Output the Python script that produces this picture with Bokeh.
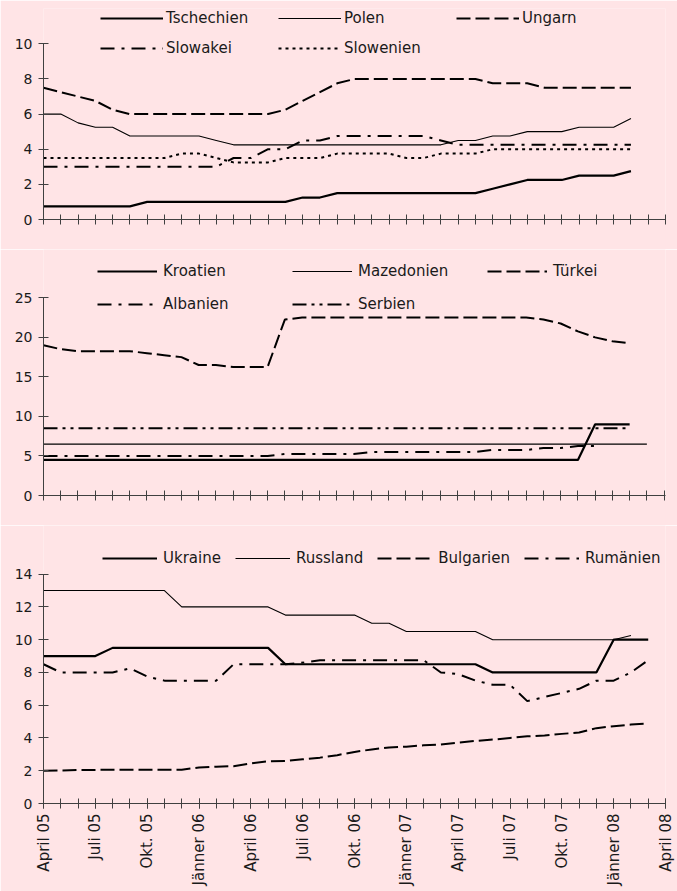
import math
from bokeh.plotting import figure
from bokeh.models import Range1d, FixedTicker, Legend, LegendItem
from bokeh.layouts import column
from bokeh.embed import file_html
from bokeh.resources import INLINE

BG = "#FFE4E6"
FONT = "DejaVu Sans"
AXC = "#404040"
TXT = "#1a1a1a"

# month index 0 = April 05 ... 36 = April 08
tick_labels = ["April 05", "Juli 05", "Okt. 05", "Jänner 06", "April 06", "Juli 06",
               "Okt. 06", "Jänner 07", "April 07", "Juli 07", "Okt. 07", "Jänner 08", "April 08"]
n_months = 37

# ---- panel 1 ----
tschechien = [0.75, 0.75, 0.75, 0.75, 0.75, 0.75, 1.0, 1.0, 1.0, 1.0, 1.0, 1.0, 1.0, 1.0, 1.0,
              1.25, 1.25, 1.5, 1.5, 1.5, 1.5, 1.5, 1.5, 1.5, 1.5, 1.5, 1.75, 2.0, 2.25, 2.25, 2.25,
              2.5, 2.5, 2.5, 2.75]
polen = [6.0, 6.0, 5.5, 5.25, 5.25, 4.75, 4.75, 4.75, 4.75, 4.75, 4.5, 4.25, 4.25, 4.25, 4.25,
         4.25, 4.25, 4.25, 4.25, 4.25, 4.25, 4.25, 4.25, 4.25, 4.5, 4.5, 4.75, 4.75, 5.0, 5.0, 5.0,
         5.25, 5.25, 5.25, 5.75]
ungarn = [7.5, 7.25, 7.0, 6.75, 6.25, 6.0, 6.0, 6.0, 6.0, 6.0, 6.0, 6.0, 6.0, 6.0, 6.25, 6.75,
          7.25, 7.75, 8.0, 8.0, 8.0, 8.0, 8.0, 8.0, 8.0, 8.0, 7.75, 7.75, 7.75, 7.5, 7.5, 7.5,
          7.5, 7.5, 7.5]
slowakei = [3.0, 3.0, 3.0, 3.0, 3.0, 3.0, 3.0, 3.0, 3.0, 3.0, 3.0, 3.5, 3.5, 4.0, 4.0, 4.5, 4.5,
            4.75, 4.75, 4.75, 4.75, 4.75, 4.75, 4.5, 4.25, 4.25, 4.25, 4.25, 4.25, 4.25, 4.25,
            4.25, 4.25, 4.25, 4.25]
slowenien = [3.5, 3.5, 3.5, 3.5, 3.5, 3.5, 3.5, 3.5, 3.75, 3.75, 3.5, 3.25, 3.25, 3.25, 3.5,
             3.5, 3.5, 3.75, 3.75, 3.75, 3.75, 3.5, 3.5, 3.75, 3.75, 3.75, 4.0, 4.0, 4.0, 4.0,
             4.0, 4.0, 4.0, 4.0, 4.0]

# ---- panel 2 ----
kroatien = [4.5, 4.5, 4.5, 4.5, 4.5, 4.5, 4.5, 4.5, 4.5, 4.5, 4.5, 4.5, 4.5, 4.5, 4.5, 4.5,
            4.5, 4.5, 4.5, 4.5, 4.5, 4.5, 4.5, 4.5, 4.5, 4.5, 4.5, 4.5, 4.5, 4.5, 4.5, 4.5,
            9.0, 9.0, 9.0]
mazedonien = [6.5, 6.5, 6.5, 6.5, 6.5, 6.5, 6.5, 6.5, 6.5, 6.5, 6.5, 6.5, 6.5, 6.5, 6.5, 6.5,
              6.5, 6.5, 6.5, 6.5, 6.5, 6.5, 6.5, 6.5, 6.5, 6.5, 6.5, 6.5, 6.5, 6.5, 6.5, 6.5,
              6.5, 6.5, 6.5, 6.5]
tuerkei = [19.0, 18.5, 18.25, 18.25, 18.25, 18.25, 18.0, 17.75, 17.5, 16.5, 16.5, 16.25, 16.25,
           16.25, 22.25, 22.5, 22.5, 22.5, 22.5, 22.5, 22.5, 22.5, 22.5, 22.5, 22.5, 22.5, 22.5,
           22.5, 22.5, 22.25, 21.75, 20.75, 20.0, 19.5, 19.25]
albanien = [5.0, 5.0, 5.0, 5.0, 5.0, 5.0, 5.0, 5.0, 5.0, 5.0, 5.0, 5.0, 5.0, 5.0, 5.25, 5.25,
            5.25, 5.25, 5.25, 5.5, 5.5, 5.5, 5.5, 5.5, 5.5, 5.5, 5.75, 5.75, 5.75, 6.0, 6.0,
            6.25, 6.25]
serbien = [8.5, 8.5, 8.5, 8.5, 8.5, 8.5, 8.5, 8.5, 8.5, 8.5, 8.5, 8.5, 8.5, 8.5, 8.5, 8.5, 8.5,
           8.5, 8.5, 8.5, 8.5, 8.5, 8.5, 8.5, 8.5, 8.5, 8.5, 8.5, 8.5, 8.5, 8.5, 8.5, 8.5, 8.5,
           8.5]

# ---- panel 3 ----
ukraine = [9.0, 9.0, 9.0, 9.0, 9.5, 9.5, 9.5, 9.5, 9.5, 9.5, 9.5, 9.5, 9.5, 9.5, 8.5, 8.5, 8.5,
           8.5, 8.5, 8.5, 8.5, 8.5, 8.5, 8.5, 8.5, 8.5, 8.0, 8.0, 8.0, 8.0, 8.0, 8.0, 8.0, 10.0,
           10.0, 10.0]
russland = [13.0, 13.0, 13.0, 13.0, 13.0, 13.0, 13.0, 13.0, 12.0, 12.0, 12.0, 12.0, 12.0, 12.0,
            11.5, 11.5, 11.5, 11.5, 11.5, 11.0, 11.0, 10.5, 10.5, 10.5, 10.5, 10.5, 10.0, 10.0,
            10.0, 10.0, 10.0, 10.0, 10.0, 10.0, 10.25]
bulgarien = [2.0, 2.02, 2.04, 2.05, 2.06, 2.06, 2.06, 2.06, 2.06, 2.2, 2.25, 2.28, 2.45, 2.58,
             2.6, 2.7, 2.8, 2.95, 3.15, 3.3, 3.42, 3.47, 3.55, 3.6, 3.72, 3.82, 3.9, 4.0, 4.1,
             4.15, 4.25, 4.33, 4.6, 4.72, 4.82, 4.88]
rumaenien = [8.5, 8.0, 8.0, 8.0, 8.0, 8.25, 7.75, 7.5, 7.5, 7.5, 7.5, 8.5, 8.5, 8.5, 8.5, 8.6,
             8.75, 8.75, 8.75, 8.75, 8.75, 8.75, 8.75, 8.0, 7.9, 7.5, 7.25, 7.25, 6.25, 6.5,
             6.75, 7.0, 7.5, 7.5, 8.0, 8.75]

THICK = dict(line_width=2.2, line_dash="solid")
THIN = dict(line_width=1.1, line_dash="solid")
DASH = dict(line_width=2.0, line_dash="14 5")
DASHDOT = dict(line_width=2.0, line_dash="14 7 3 7")
DOT = dict(line_width=2.0, line_dash="3 4")
DASHDOTDOT = dict(line_width=2.0, line_dash="14 5 3 5 3 5")


def make_panel(series, y_end, y_max, y_ticks, frame_h, border_top, border_bottom, x_end,
               border_right, leg, show_labels):
    p = figure(width=677, height=border_top + frame_h + border_bottom, output_backend="svg",
               toolbar_location=None, x_range=Range1d(0, x_end), y_range=Range1d(0, y_end),
               min_border_left=43, min_border_right=border_right, min_border_top=border_top,
               min_border_bottom=border_bottom)
    p.background_fill_color = BG
    p.border_fill_color = BG
    p.outline_line_color = None
    p.xgrid.visible = False
    p.ygrid.visible = False

    items = []
    for name, vals, style in series:
        r = p.line(list(range(len(vals))), vals, line_color="black", **style)
        items.append(LegendItem(label=name, renderers=[r]))

    legend = Legend(items=items, location=leg["loc"], orientation="horizontal",
                    ncols=leg["ncols"], glyph_width=leg["gw"], glyph_height=20,
                    label_height=20, label_width=leg["lw"], label_standoff=leg["ls"],
                    spacing=leg["sp"], padding=0, margin=0, border_line_color=None,
                    background_fill_alpha=0, label_text_font=FONT,
                    label_text_font_size="15px", label_text_color=TXT)
    p.add_layout(legend)

    ya = p.yaxis[0]
    ya.ticker = FixedTicker(ticks=y_ticks)
    ya.bounds = (0, y_max)
    ya.major_tick_in = 5
    ya.major_tick_out = 5
    ya.minor_tick_line_color = None
    ya.axis_line_color = AXC
    ya.major_tick_line_color = AXC
    ya.major_label_text_font = FONT
    ya.major_label_text_font_size = "14px"
    ya.major_label_text_color = TXT
    ya.major_label_standoff = 6

    xa = p.xaxis[0]
    month_ticks = list(range(n_months))
    if show_labels:
        major = [k for k in month_ticks if k % 3 == 0]
        xa.ticker = FixedTicker(ticks=major, minor_ticks=month_ticks)
        xa.major_label_overrides = {k: tick_labels[i] for i, k in enumerate(major)}
        xa.major_label_orientation = math.pi / 2
        xa.major_label_text_font_size = "15px"
        xa.major_label_standoff = 5
        xa.major_label_text_font = FONT
        xa.major_label_text_color = TXT
    else:
        xa.ticker = FixedTicker(ticks=[], minor_ticks=month_ticks)
    xa.major_tick_in = 5
    xa.major_tick_out = 5
    xa.minor_tick_in = 5
    xa.minor_tick_out = 5
    xa.axis_line_color = AXC
    xa.major_tick_line_color = AXC
    xa.minor_tick_line_color = AXC
    return p


p1 = make_panel(
    [("Tschechien", tschechien, THICK), ("Polen", polen, THIN), ("Ungarn", ungarn, DASH),
     ("Slowakei", slowakei, DASHDOT), ("Slowenien", slowenien, DOT)],
    y_end=12.01, y_max=10, y_ticks=[0, 2, 4, 6, 8, 10], frame_h=211, border_top=8,
    border_bottom=30, x_end=36, border_right=4,
    leg=dict(loc=(57, 161), ncols=3, gw=63, lw=102, ls=3, sp=10), show_labels=False)

p2 = make_panel(
    [("Kroatien", kroatien, THICK), ("Mazedonien", mazedonien, THIN), ("Türkei", tuerkei, DASH),
     ("Albanien", albanien, DASHDOT), ("Serbien", serbien, DASHDOTDOT)],
    y_end=31.11, y_max=25, y_ticks=[0, 5, 10, 15, 20, 25], frame_h=246, border_top=0,
    border_bottom=30, x_end=36.08, border_right=0,
    leg=dict(loc=(54, 181), ncols=3, gw=60, lw=116, ls=6, sp=13), show_labels=False)

p3 = make_panel(
    [("Ukraine", ukraine, THICK), ("Russland", russland, THIN), ("Bulgarien", bulgarien, DASH),
     ("Rumänien", rumaenien, DASHDOT)],
    y_end=16.97, y_max=14, y_ticks=[0, 2, 4, 6, 8, 10, 12, 14], frame_h=278, border_top=0,
    border_bottom=88, x_end=36, border_right=12,
    leg=dict(loc=(59, 235), ncols=4, gw=55, lw=20, ls=6, sp=14), show_labels=True)
p3.xaxis[0].bounds = (0, 36)

layout = column(p1, p2, p3, spacing=0)

html = file_html(layout, INLINE, "Zinsen")
html = html.replace("<body>", '<body style="background-color:%s;">' % BG, 1)
open("out.html", "w").write(html)
